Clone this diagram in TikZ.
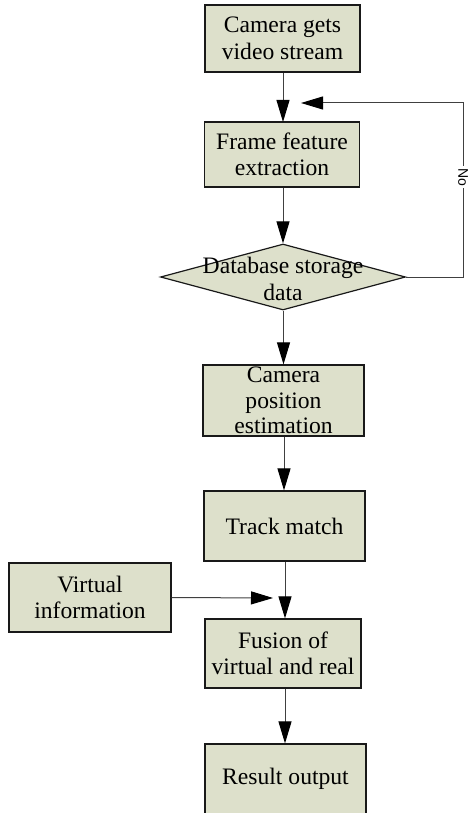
\documentclass[tikz,border=0pt]{standalone}
\usepackage{fontspec}
\setmainfont{Liberation Serif}
\newfontfamily\labelfont{Liberation Sans}
\usetikzlibrary{arrows.meta,shapes.geometric}
\definecolor{boxfill}{RGB}{221,224,203}
\tikzset{
	flownode/.style = {align=center, inner sep=0pt, text centered,
		font=\fontsize{11.8pt}{13.2pt}\selectfont},
	stp_b/.style = {flownode, rectangle, draw=black!90, fill=boxfill,
		line width=0.6pt, minimum width=77.5pt, minimum height=34.5pt},
	stp_d/.style = {diamond, draw=black!90, fill=boxfill, line width=0.6pt,
		inner sep=0pt, minimum width=122.5pt, minimum height=33pt},
	lbl_n/.style = {font=\labelfont\fontsize{7pt}{8pt}\selectfont, fill=white,
		inner sep=1pt, rotate=-90}
}

\begin{document}
\begin{tikzpicture}[->,>={Triangle[length=11pt,width=6.5pt,color=black]},
	x=0.5pt, y=-0.5pt, line width=0.5pt, draw=black!75]
\useasboundingbox (0,0) rectangle (468,813);

% main column
\node [stp_b, minimum height=33.5pt] (cam) at (282.5,38.5) {Camera gets\\video stream};
\node [stp_b, minimum height=32.5pt] (feat) at (282,154.5) {Frame feature\\extraction};
\node [stp_d] (db) at (283,277) {};
\node [flownode] (dbtxt) at (283,279) {Database storage\\data};
\node [stp_b, minimum width=80.5pt, minimum height=35.5pt, inner ysep=-1.5pt,
	font=\fontsize{11.8pt}{12.7pt}\selectfont] (pose) at (283.5,400.5) {Camera\\position\\estimation};
\node [stp_b, minimum width=80.5pt, minimum height=35pt] (track) at (284.5,526) {Track match};
\node [stp_b, minimum width=78pt] (fuse) at (283,653.5) {Fusion of\\virtual and real};
\node [stp_b, minimum width=80.5pt, minimum height=35pt] (res) at (285.5,779) {Result output};

% side input
\node [stp_b, minimum width=81pt] (virt) at (90,597.5) {Virtual\\information};

\coordinate (fbk) at (301,103);
\coordinate (loop) at (463,103);
\coordinate (vin) at (273,598);

\draw (cam.south -| 283,0) -- (283,122);
\draw (feat.south -| 283,0) -- (db.north);
\draw (db.south -| 283.5,0) -- (pose.north -| 283.5,0);
\draw (pose.south -| 284,0) -- (track.north -| 284,0);
\draw (track.south -| 285,0) -- (fuse.north -| 285,0);
\draw (fuse.south -| 285,0) -- (res.north -| 285,0);
\draw (virt.east) -- (vin);
\draw (db.east) -| (loop) -- (fbk);
\node [lbl_n] (no) at (463,177) {No};
\end{tikzpicture}
\end{document}
